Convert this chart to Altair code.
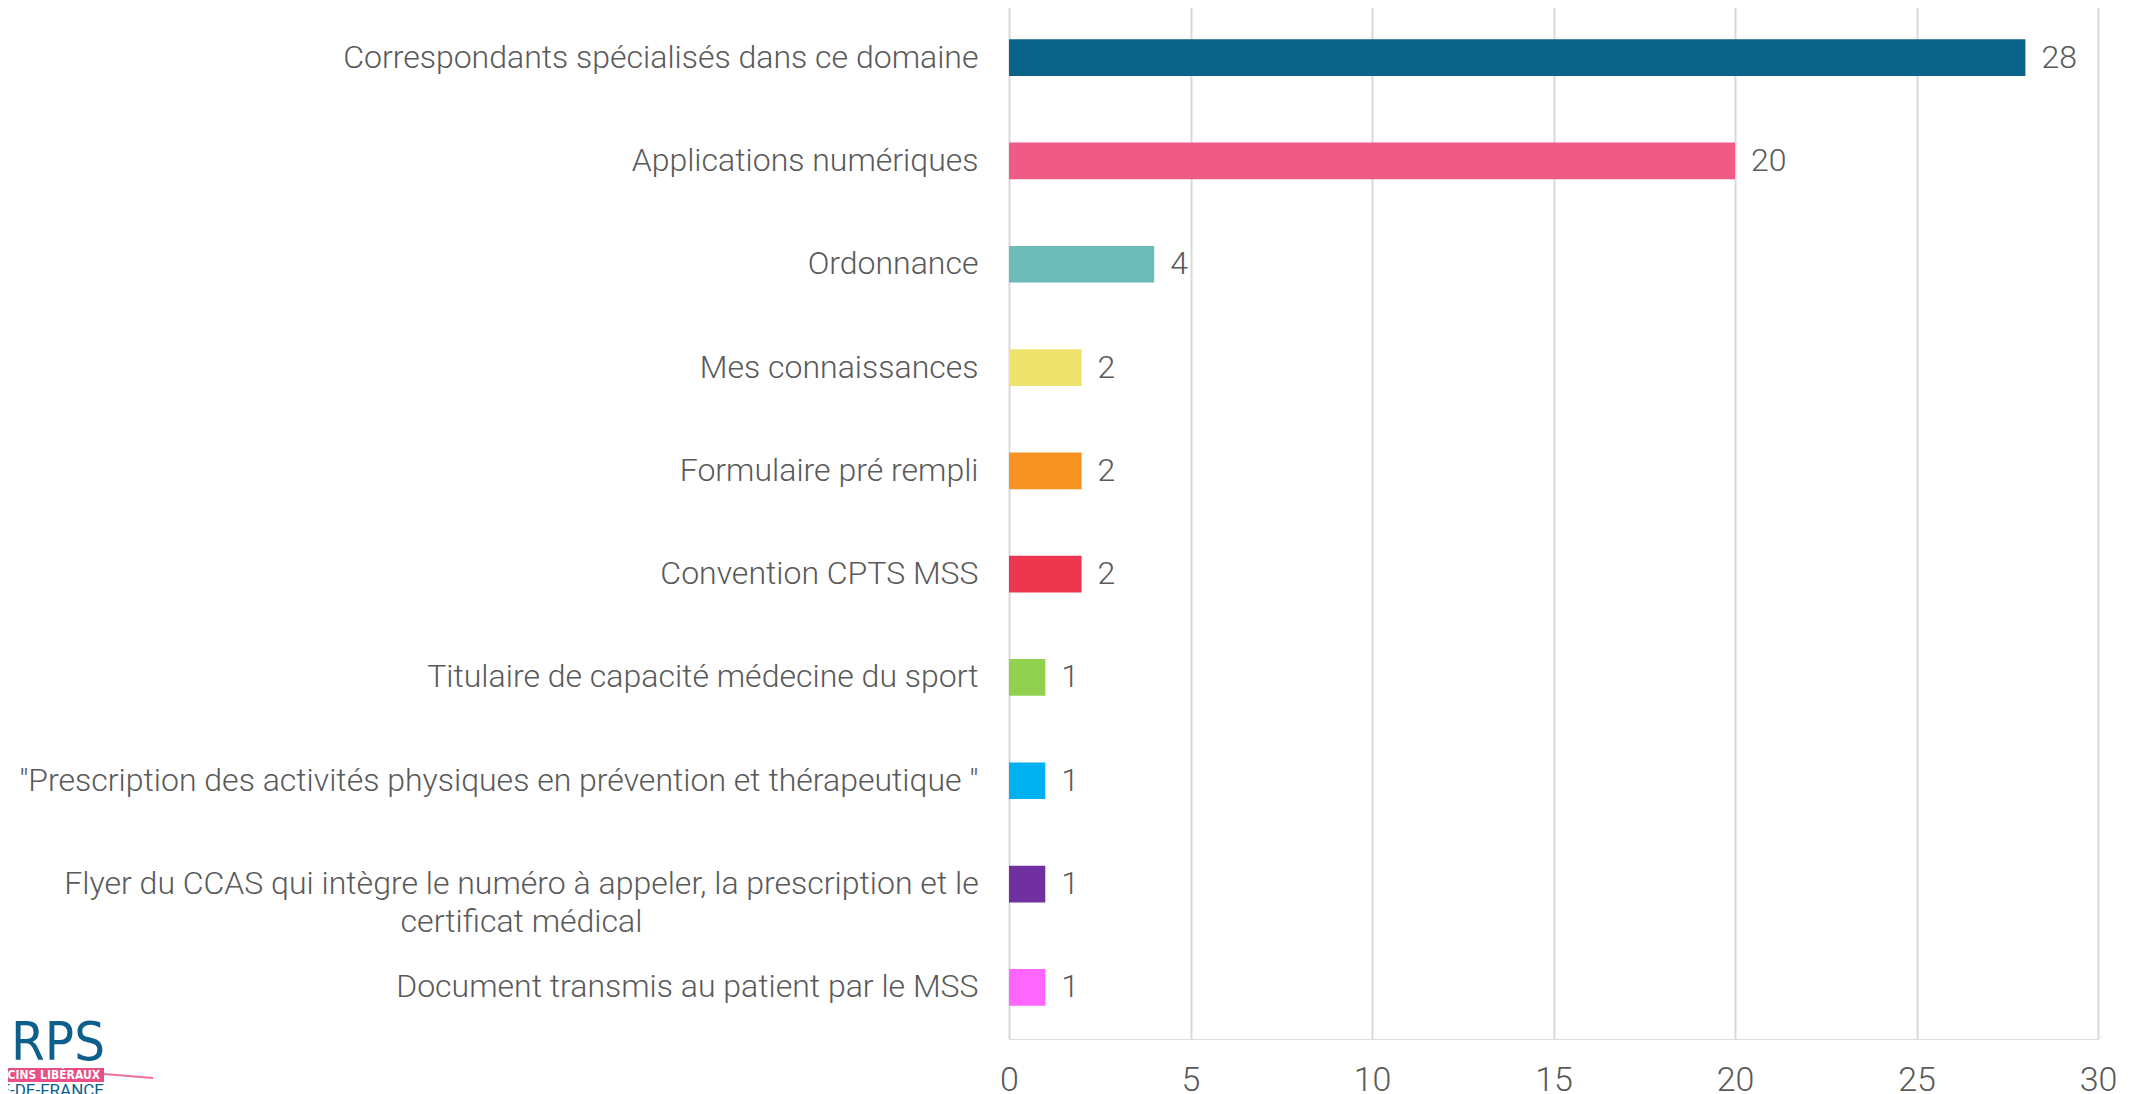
import altair as alt
import pandas as pd

categories = [
    "Correspondants spécialisés dans ce domaine",
    "Applications numériques",
    "Ordonnance",
    "Mes connaissances",
    "Formulaire pré rempli",
    "Convention CPTS MSS",
    "Titulaire de capacité médecine du sport",
    "\"Prescription des activités physiques en prévention et thérapeutique \"",
    "Flyer du CCAS qui intègre le numéro à appeler, la prescription et le certificat médical",
    "Document transmis au patient par le MSS",
]
values = [28, 20, 4, 2, 2, 2, 1, 1, 1, 1]
colors = ["#0B6389", "#F05A87", "#6CBBB7", "#EDE36D", "#F69320",
          "#EF364F", "#92D050", "#00B0F0", "#7030A0", "#FF66FF"]
x_ticks = [0, 5, 10, 15, 20, 25, 30]

flyer_line1 = "Flyer du CCAS qui intègre le numéro à appeler, la prescription et le"
flyer_line2 = "certificat médical"

df = pd.DataFrame({"category": categories, "value": values})

FONT = "Roboto Light, Roboto"
GREY = "#595959"

flyer_test = "indexof(datum.label, 'Flyer du CCAS') == 0"
label_expr = f"{flyer_test} ? ['{flyer_line1}', '{flyer_line2}'] : datum.label"

y_enc = alt.Y(
    "category:N",
    sort=categories,
    scale=alt.Scale(paddingInner=0.645, paddingOuter=0.3225),
    axis=alt.Axis(
        title=None, ticks=False, domain=False, grid=False,
        labelFont=FONT, labelFontSize=32, labelFontWeight=300,
        labelColor=GREY, labelLimit=1200, labelLineHeight=38,
        labelExpr=label_expr,
        labelAlign={"condition": {"test": flyer_test, "value": "center"}, "value": "right"},
        labelPadding={"condition": {"test": flyer_test, "value": 488}, "value": 31},
    ),
)
x_enc = alt.X(
    "value:Q",
    scale=alt.Scale(domain=[0, 30], nice=False),
    axis=alt.Axis(
        title=None, values=x_ticks, ticks=False, domain=False,
        grid=True, gridColor="#d9d9d9", gridWidth=2, labelFlush=False,
        labelFont=FONT, labelFontSize=34, labelFontWeight=300,
        labelColor=GREY, labelPadding=24,
    ),
)

base = alt.Chart(df)
bars = base.mark_bar().encode(
    x=x_enc,
    y=y_enc,
    color=alt.Color("category:N", scale=alt.Scale(domain=categories, range=colors), legend=None),
)
texts = base.mark_text(
    align="left", baseline="middle", dx=16,
    font=FONT, fontSize=32, fontWeight=300, color=GREY,
).encode(x="value:Q", y=alt.Y("category:N", sort=categories), text="value:Q")

# logo (decoration, bottom left)
one = alt.Chart(alt.Data(values=[{"k": 1}]))
logo_blue = "#0B5F8A"
logo_pink = "#E94E85"
urps = one.mark_text(
    text="URPS", align="right", baseline="alphabetic",
    font="Liberation Sans Narrow, DejaVu Sans Condensed, Roboto", fontSize=54, color=logo_blue,
).encode(x=alt.value(-904), y=alt.value(1054))
band = one.mark_rect(color=logo_pink).encode(
    x=alt.value(-1020), x2=alt.value(-905), y=alt.value(1062), y2=alt.value(1076)
)
swoosh = one.mark_rule(color=logo_pink, strokeWidth=2, opacity=0.8).encode(
    x=alt.value(-905), x2=alt.value(-856), y=alt.value(1068), y2=alt.value(1072)
)
med = one.mark_text(
    text="MÉDECINS LIBÉRAUX", align="right", baseline="middle",
    font="DejaVu Sans Condensed, Roboto", fontSize=12, fontWeight="bold", color="white",
).encode(x=alt.value(-909), y=alt.value(1069))
idf = one.mark_text(
    text="ÎLE-DE-FRANCE", align="right", baseline="top",
    font="Roboto", fontSize=17, color=logo_blue,
).encode(x=alt.value(-905), y=alt.value(1077))

chart = alt.layer(bars, texts, urps, band, swoosh, med, idf).properties(
    width=1089,
    height=1033,
    autosize=alt.AutoSizeParams(type="none"),
    padding={"left": 1001, "top": -2, "right": 25, "bottom": 55},
).configure_view(stroke=None).configure(background="white")

chart.save("out.html", embed_options={"renderer": "svg", "actions": False})
